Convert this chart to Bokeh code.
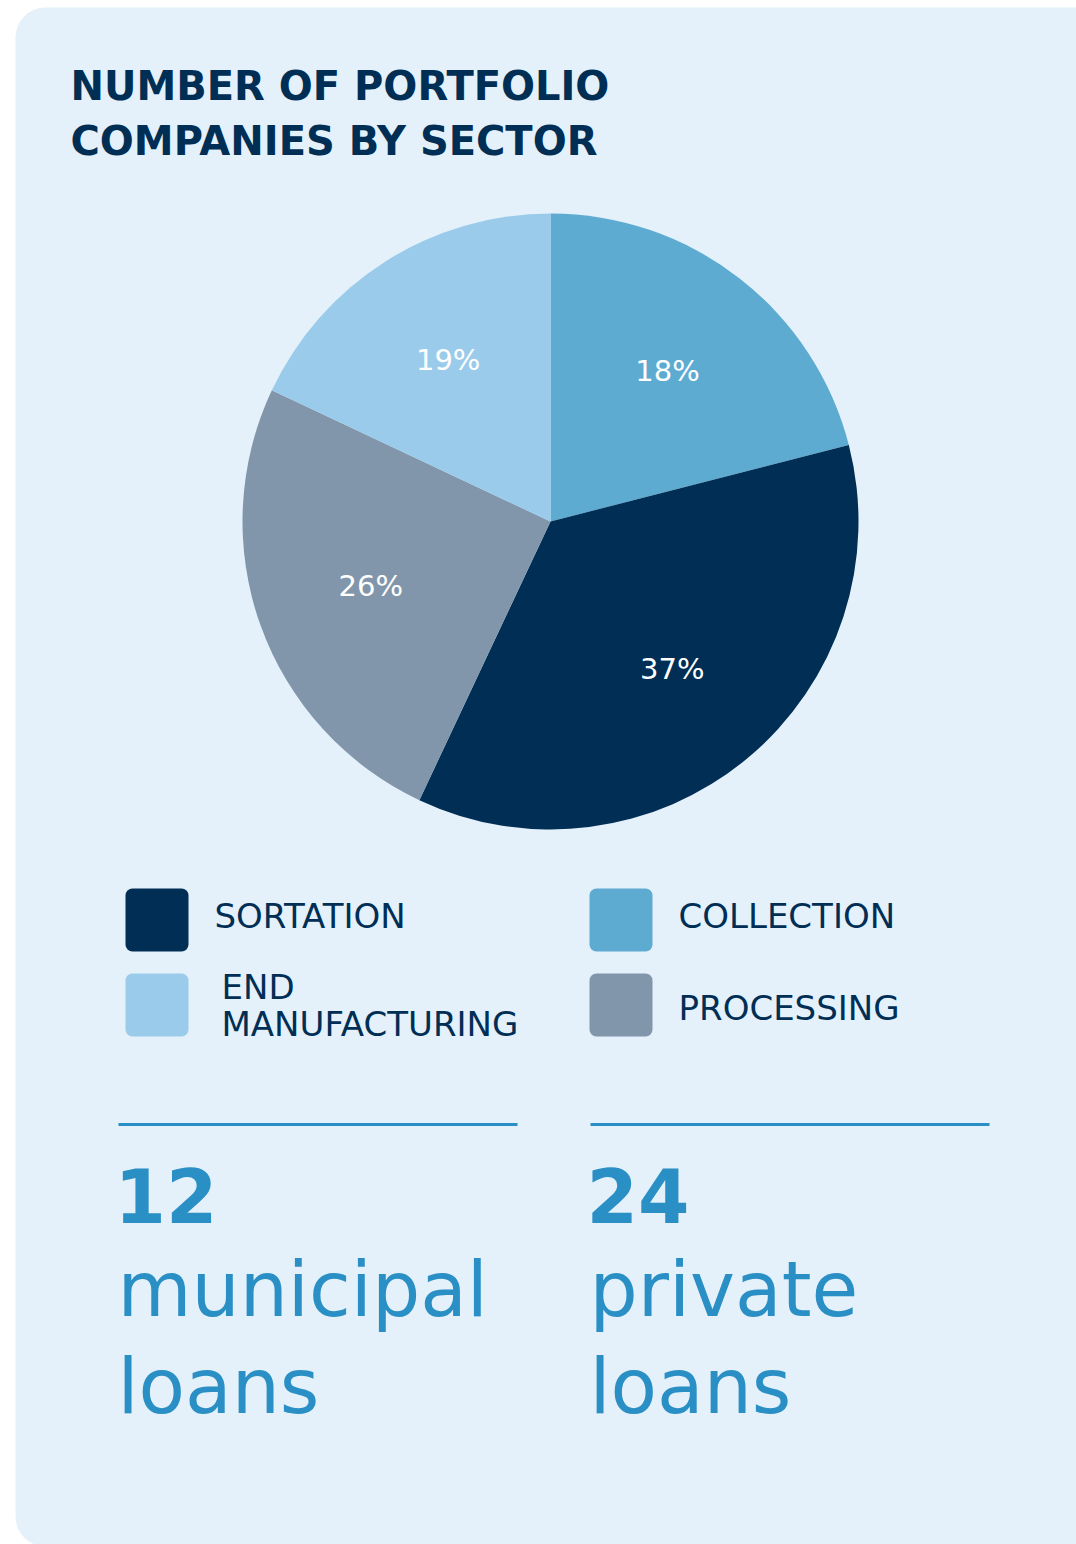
import math
from bokeh.plotting import figure
from bokeh.models import Range1d, BoxAnnotation, ColumnDataSource
from bokeh.core.properties import value
from bokeh.embed import file_html
from bokeh.resources import INLINE

# ---------------- data ----------------
title_lines = ["NUMBER OF PORTFOLIO", "COMPANIES BY SECTOR"]
sectors = ["COLLECTION", "SORTATION", "PROCESSING", "END MANUFACTURING"]   # clockwise from 12 o'clock
shares = [21, 36, 25, 18]                                                 # slice sizes as drawn
pct_labels = ["18%", "37%", "26%", "19%"]                                 # printed labels
sector_colors = ["#5EABD2", "#002E55", "#8196AB", "#9ACBEA"]
legend_order = ["SORTATION", "COLLECTION", "END\nMANUFACTURING", "PROCESSING"]
loan_counts = ["12", "24"]
loan_types = ["municipal\nloans", "private\nloans"]

# ---------------- styling ----------------
NAVY = "#002E55"
BLUE = "#2A8FC4"
CARD = "#E4F1FA"
FONT = "DejaVu Sans"
BASE_FIX = 0.385  # alphabetic baseline correction (fraction of font size)

W, H = 1076, 1544
p = figure(width=W, height=H, x_range=Range1d(0, W), y_range=Range1d(0, H),
           output_backend="svg", toolbar_location=None, min_border=0,
           x_axis_location=None, y_axis_location=None)
p.grid.visible = False
p.outline_line_color = None
p.background_fill_color = "white"
p.border_fill_color = "white"


def X(px):
    return px


def Y(py):
    return H - py


def put(x, base, txt, fs, color, bold=False):
    p.text(x=[X(x)], y=[Y(base - BASE_FIX * fs)], text=[txt], text_font=value(FONT),
           text_font_style="bold" if bold else "normal", text_font_size=f"{fs}px",
           text_color=color, text_align="left", text_baseline="alphabetic")


# card
p.add_layout(BoxAnnotation(left=X(15), right=X(1110), bottom=Y(1546), top=Y(7),
                           fill_color=CARD, fill_alpha=1, line_color=None,
                           border_radius=30, level="underlay"))

# title
for i, line in enumerate(title_lines):
    put(70, 100.5 + 55 * i, line, 40, NAVY, bold=True)

# pie
cx, cy, R = X(550), Y(521), 308
total = float(sum(shares))
starts, ends, lx, ly = [], [], [], []
cum = 0.0
for s in shares:
    a0 = math.radians(90 - cum / total * 360)
    a1 = math.radians(90 - (cum + s) / total * 360)
    starts.append(a0)
    ends.append(a1)
    mid = (a0 + a1) / 2
    lx.append(cx + 0.62 * R * math.cos(mid))
    ly.append(cy + 0.62 * R * math.sin(mid))
    cum += s

src = ColumnDataSource(dict(sector=sectors, start=starts, end=ends, color=sector_colors,
                            lx=lx, ly=ly, label=pct_labels))
p.wedge(x=cx, y=cy, radius=R, start_angle="start", end_angle="end", direction="clock",
        fill_color="color", line_color=None, source=src)
p.text(x="lx", y="ly", text="label", source=src, text_font=value(FONT),
       text_font_size="29px", text_color="white", text_align="center",
       text_baseline="middle")

# legend
color_of = dict(zip(sectors, sector_colors))
col_left = [125, 589]
row_top = [888, 973]
sw = 63
for i, name in enumerate(legend_order):
    c, r = i % 2, i // 2
    key = name.replace("\n", " ")
    l, t = col_left[c], row_top[r]
    p.add_layout(BoxAnnotation(left=X(l), right=X(l + sw), top=Y(t), bottom=Y(t + sw),
                               fill_color=color_of[key], fill_alpha=1, line_color=None,
                               border_radius=7))
    lines = name.split("\n")
    if len(lines) == 1:
        bases = [t + 41 if r == 0 else t + 48]
        tx = l + 89
    else:
        bases = [t + 27, t + 64]
        tx = l + 96
    for b, txt in zip(bases, lines):
        put(tx, b, txt, 34, NAVY)

# loan stats
stat_left = [118, 590]
for k in range(2):
    xl = stat_left[k]
    p.segment(x0=[X(xl)], y0=[Y(1124)], x1=[X(xl + 399)], y1=[Y(1124)],
              line_color=BLUE, line_width=3)
    put(xl - 4, 1223, loan_counts[k], 74, BLUE, bold=True)
    for j, word in enumerate(loan_types[k].split("\n")):
        put(xl - 1, 1318 + 97 * j, word, 76, BLUE)

open("out.html", "w").write(file_html(p, INLINE))
